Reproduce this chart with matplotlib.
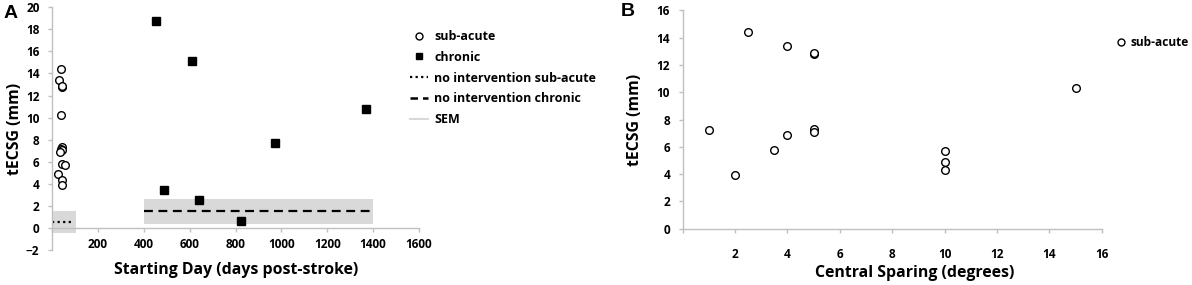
import matplotlib
matplotlib.use("Agg")
import matplotlib.pyplot as plt
from matplotlib.lines import Line2D

plt.rcParams['font.family'] = ['Open Sans', 'DejaVu Sans']
plt.rcParams['font.weight'] = 'bold'

# ---- Panel A data ----
subacute_day = [40, 30, 42, 44, 40, 45, 38, 42, 33, 42, 55, 25, 45, 42]
subacute_tecsg = [14.4, 13.4, 12.8, 12.9, 10.2, 7.3, 7.2, 7.1, 6.9, 5.8, 5.7, 4.9, 4.3, 3.9]
chronic_day = [455, 610, 490, 640, 822, 972, 1369]
chronic_tecsg = [18.8, 15.1, 3.4, 2.5, 0.6, 7.7, 10.8]
noint_sub_x = [0, 92]
noint_sub_mean = 0.55
noint_sub_sem = 1.0
sem_sub_x = [0, 105]
noint_chr_x = [400, 1400]
noint_chr_mean = 1.5
noint_chr_sem = 1.1

# ---- Panel B data ----
sparing_deg = [1, 2, 2.5, 3.5, 4, 4, 5, 5, 5, 5, 10, 10, 10, 15]
sparing_tecsg = [7.2, 3.9, 14.4, 5.8, 13.4, 6.9, 12.8, 12.9, 7.3, 7.1, 5.7, 4.9, 4.3, 10.3]

xticksA = [200, 400, 600, 800, 1000, 1200, 1400, 1600]
yticksA = list(range(-2, 21, 2))
xticksB = [2, 4, 6, 8, 10, 12, 14, 16]
yticksB = list(range(0, 17, 2))

W, H = 1192, 285
fig = plt.figure(figsize=(W / 100, H / 100), dpi=100)

spine_col = '#c0c0c0'
sem_col = '#d9d9d9'
label_fs = 11.4

def style_axes(ax):
    for s in ['top', 'right']:
        ax.spines[s].set_visible(False)
    for s in ['left', 'bottom']:
        ax.spines[s].set_color(spine_col)
        ax.spines[s].set_linewidth(1.0)
    ax.tick_params(axis='both', colors=spine_col, length=3, width=1.0,
                   labelcolor='black', labelsize=8.5, pad=6)
    for lab in ax.get_xticklabels() + ax.get_yticklabels():
        lab.set_fontweight('bold')

# Panel A
axA = fig.add_axes([52 / W, 0.1228, (419 - 52) / W, 0.8516])
axA.fill_between(sem_sub_x, noint_sub_mean - noint_sub_sem, noint_sub_mean + noint_sub_sem,
                 color=sem_col, lw=0, zorder=1)
axA.fill_between(noint_chr_x, noint_chr_mean - noint_chr_sem, noint_chr_mean + noint_chr_sem,
                 color=sem_col, lw=0, zorder=1)
axA.plot(noint_sub_x, [noint_sub_mean] * 2, color='black', ls=(0, (1, 1.5)), lw=1.6, zorder=2)
axA.plot(noint_chr_x, [noint_chr_mean] * 2, color='black', ls=(0, (4, 2.5)), lw=1.6, zorder=2)
axA.plot(subacute_day, subacute_tecsg, 'o', mfc='white', mec='black', mew=1.0, ms=5.5,
         ls='none', zorder=3)
axA.plot(chronic_day, chronic_tecsg, 's', mfc='black', mec='black', ms=5.3, ls='none', zorder=3)
axA.set_xlim(0, 1600)
axA.set_ylim(-2, 20)
axA.spines['bottom'].set_position(('data', 0))
axA.set_xticks([0] + xticksA)
axA.set_xticklabels([''] + [str(v) for v in xticksA])
axA.set_yticks(yticksA)
style_axes(axA)
axA.tick_params(axis='x', pad=4)
axA.set_ylabel('tECSG (mm)', fontsize=label_fs, fontweight='bold', labelpad=2)
fig.text(236 / W, 1 - 270 / H, 'Starting Day (days post-stroke)', ha='center', va='center',
         fontsize=label_fs, fontweight='bold')

# Legend A
handles = [
    Line2D([], [], marker='o', mfc='white', mec='black', ls='none', ms=5, mew=1.0),
    Line2D([], [], marker='s', mfc='black', mec='black', ls='none', ms=5),
    Line2D([], [], color='black', ls=(0, (1, 1.5)), lw=1.6),
    Line2D([], [], color='black', ls=(0, (3, 2)), lw=1.8),
    Line2D([], [], color=sem_col, lw=1.5),
]
labels = ['sub-acute', 'chronic', 'no intervention sub-acute', 'no intervention chronic', 'SEM']
fig.legend(handles, labels, loc='upper left', bbox_to_anchor=(405 / W, 1 - 25 / H),
           frameon=False, handlelength=1.45, handletextpad=0.5,
           labelspacing=0.62, borderaxespad=0, prop={'weight': 'bold', 'size': 9})

# Panel B
axB = fig.add_axes([682.5 / W, 0.1975, (1101.7 - 682.5) / W, 0.7664])
axB.plot(sparing_deg, sparing_tecsg, 'o', mfc='white', mec='black', mew=1.0, ms=5.5,
         ls='none', zorder=3)
axB.set_xlim(0, 16)
axB.set_ylim(0, 16)
axB.set_xticks([0] + xticksB)
axB.set_xticklabels([''] + [str(v) for v in xticksB])
axB.set_yticks(yticksB)
style_axes(axB)
axB.tick_params(axis='x', pad=11)
axB.set_ylabel('tECSG (mm)', fontsize=label_fs, fontweight='bold', labelpad=10)
fig.text(915 / W, 1 - 273 / H, 'Central Sparing (degrees)', ha='center', va='center',
         fontsize=label_fs, fontweight='bold')

fig.legend([Line2D([], [], marker='o', mfc='white', mec='black', ls='none', ms=5, mew=1.0)],
           ['sub-acute'], loc='upper left', bbox_to_anchor=(1110 / W, 1 - 31 / H),
           frameon=False, handlelength=1.0, handletextpad=0.35, borderaxespad=0,
           prop={'weight': 'bold', 'size': 8.6})

# Panel letters
fig.text(4 / W, 1 - 14 / H, 'A', ha='left', va='center', fontsize=14, fontweight='bold',
         family=['Liberation Sans', 'DejaVu Sans'])
fig.text(621 / W, 1 - 12 / H, 'B', ha='left', va='center', fontsize=14, fontweight='bold',
         family=['Liberation Sans', 'DejaVu Sans'])

fig.savefig('out.png', dpi=100)
